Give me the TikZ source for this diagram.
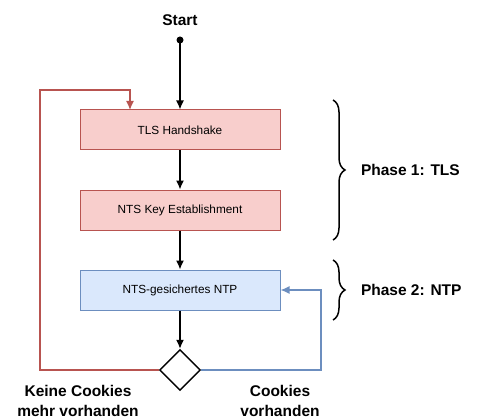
\documentclass[tikz,border=0pt]{standalone}
\usepackage{fontspec}
\setmainfont{Liberation Sans}
\usetikzlibrary{shapes.geometric, decorations.pathreplacing, arrows.meta}

\definecolor{rotRand}{HTML}{B85450}
\definecolor{rotFill}{HTML}{F8CECC}
\definecolor{blauRand}{HTML}{6C8EBF}
\definecolor{blauFill}{HTML}{DAE8FC}

\tikzset{
    schritt/.style={draw, line width=1pt, minimum width=200pt, minimum height=40pt,
        inner sep=0pt, font=\fontsize{11.8}{14}\selectfont},
    tlsbox/.style={schritt, draw=rotRand, fill=rotFill},
    ntpbox/.style={schritt, draw=blauRand, fill=blauFill},
    label/.style={font=\bfseries\fontsize{15.5}{20}\selectfont, align=center},
    klammer/.style={decorate, decoration={brace, amplitude=12pt}, line width=1.5pt}
}

\begin{document}
\begin{tikzpicture}[x=1pt, y=-1pt, >={Latex[length=9pt, width=8pt]}, line width=1.4pt]

    \useasboundingbox (0,0) rectangle (480,420);

    % Startpunkt
    \node[label] (start) at (180,20) {Start};
    \fill (180,40) circle (3.5pt);
    \coordinate (S) at (180,40);

    % --- Kästen ---
    \node[tlsbox] (tls) at (180,130) {TLS Handshake};
    \node[tlsbox] (nts) at (180,210) {NTS Key Establishment};
    \node[ntpbox] (ntp) at (180,290) {NTS-gesichertes NTP};

    % Entscheidung
    \node[diamond, draw, line width=1.4pt, minimum width=41pt, minimum height=41pt,
        inner sep=0pt] (frage) at (180,370) {};

    % --- Pfeile ---
    \draw[->] (S) -- (tls);
    \draw[->] (tls) -- (nts);
    \draw[->] (nts) -- (ntp);
    \draw[->] (ntp) -- (frage);

    % Keine Cookies: zurück zum Handshake
    \coordinate (R1) at (40,370);
    \coordinate (R2) at (40,90);
    \coordinate (R3) at (130,90);
    \draw[->, rotRand] (frage.west) -- (R1) -- (R2) -- (R3) -- (130,110);

    % Cookies vorhanden: zurück zu NTP
    \coordinate (B1) at (321,370);
    \coordinate (B2) at (321,290);
    \draw[->, blauRand] (frage.east) -- (B1) -- (B2) -- (ntp.east);

    % Beschriftungen
    \node[label] (keine) at (78,401) {Keine Cookies\\mehr vorhanden};
    \node[label] (cookies) at (280,401) {Cookies\\vorhanden};

    % --- Phasen ---
    \draw[klammer] (333,100) -- (333,240);
    \draw[klammer] (333,260) -- (333,320);
    \node[label, right] (phase1) at (357,170) {Phase 1: TLS};
    \node[label, right] (phase2) at (357,290) {Phase 2: NTP};

\end{tikzpicture}
\end{document}
